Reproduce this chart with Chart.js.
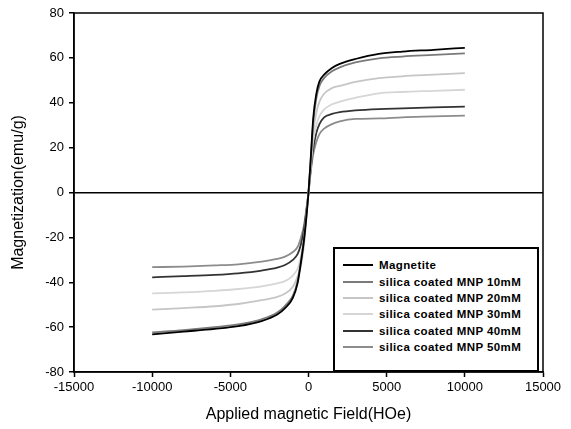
<!DOCTYPE html>
<html>
<head>
<meta charset="utf-8">
<script src="https://cdn.jsdelivr.net/npm/chart.js@4.4.1/dist/chart.umd.min.js"></script>
<style>
  body{ margin:0; background:#fff; }
  #wrap{ position:relative; width:571px; height:429px; }
  #legend{
    position:absolute; left:333px; top:247px; width:202px; height:113px;
    border:2px solid #000; background:#fff;
    font-family:"Liberation Sans", Arial, sans-serif; font-weight:bold; font-size:11.5px; letter-spacing:0.4px;
    box-sizing:content-box; padding-top:8px;
  }
  .lg-row{ display:flex; align-items:center; height:16.4px; }
  .lg-line{ width:30px; height:2px; margin-left:8px; margin-right:6px; }
</style>
</head>
<body>
<div id="wrap">
  <canvas id="c" width="571" height="429"></canvas>
  <div id="legend"></div>
</div>
<script>
// applied field (Oe)
const fieldH = [-10000,-8000,-6000,-4500,-3000,-2000,-1500,-1000,-700,-500,-300,-150,0,150,300,500,700,1000,1500,2000,3000,4500,6000,8000,10000];

// magnetization (emu/g)
const magnetite = [-63.2,-62,-60.8,-59.6,-57.3,-54.4,-51.5,-47,-40.5,-32,-22,-12,0,16,33,44,49.5,52.5,55.5,57.3,59.5,61.8,62.8,63.6,64.5];
const mnp10 = [-62.3,-61.3,-60,-58.8,-56.5,-53.5,-50.5,-46,-39.5,-31,-21,-11,0,15,31,42,47.5,51,54,55.8,58,59.8,60.6,61.3,62];
const mnp20 = [-52.2,-51.5,-50.7,-49.7,-48,-46.5,-45,-42,-37.5,-33,-24,-13,0,14,27,35.5,40.5,44,46.5,47.5,49.3,51,51.8,52.5,53.2];
const mnp30 = [-45,-44.5,-43.8,-43,-41.8,-40.5,-39.5,-37,-34,-29,-21,-11,0,12,23,30,34,37,39.3,40.5,42.2,44.2,44.8,45.3,45.8];
const mnp40 = [-37.8,-37.3,-36.7,-36,-34.8,-33.5,-32.3,-30,-27.5,-23.5,-17,-9,0,11,19.5,26.5,30.5,33.5,35,35.8,36.6,37.2,37.5,37.9,38.3];
const mnp50 = [-33.3,-33,-32.5,-32,-30.8,-29.6,-28.6,-26.5,-24.3,-20.5,-15,-8,0,9.5,17,22.5,26,28.5,30.5,31.7,32.8,33,33.5,33.9,34.3];

const seriesNames = ['Magnetite','silica coated MNP 10mM','silica coated MNP 20mM','silica coated MNP 30mM','silica coated MNP 40mM','silica coated MNP 50mM'];
const seriesData = [magnetite, mnp10, mnp20, mnp30, mnp40, mnp50];
const seriesColors = ['#000000','#7a7a7a','#c6c6c6','#d6d6d6','#333333','#8c8c8c'];

const xTicks = [-15000,-10000,-5000,0,5000,10000,15000];
const yTicks = [-80,-60,-40,-20,0,20,40,60,80];

const FONT = '"Liberation Sans", Arial, sans-serif';

const datasets = seriesData.map((vals,i)=>({
  label: seriesNames[i],
  data: vals.map((v,j)=>({x: fieldH[j], y: v})),
  borderColor: seriesColors[i],
  backgroundColor: seriesColors[i],
  borderWidth: 1.8,
  pointRadius: 0,
  cubicInterpolationMode: 'monotone',
  fill: false
}));

// box around plot area
const frame = {
  id:'frame',
  afterDraw(chart){
    const a = chart.chartArea, ctx = chart.ctx;
    ctx.save();
    ctx.strokeStyle = '#000'; ctx.lineWidth = 1.5;
    ctx.strokeRect(a.left, a.top, a.right-a.left, a.bottom-a.top);
    ctx.restore();
  }
};

new Chart(document.getElementById('c'), {
  type:'line',
  data:{ datasets },
  plugins:[frame],
  options:{
    responsive:false,
    animation:false,
    layout:{ padding:{ left:0, right:28, top:13, bottom:0 } },
    plugins:{ legend:{ display:false }, tooltip:{ enabled:false } },
    scales:{
      x:{
        type:'linear', min:-15000, max:15000,
        afterBuildTicks(s){ s.ticks = xTicks.map(v=>({value:v})); },
        afterFit(s){ s.height = 57; },
        ticks:{ color:'#000', font:{ family:FONT, size:13 }, padding:3, maxRotation:0, callback:v=>String(v) },
        grid:{ drawOnChartArea:false, tickLength:5, tickColor:'#000', tickWidth:1.5 },
        border:{ display:true, color:'#000', width:1.5 },
        title:{ display:true, text:'Applied magnetic Field(HOe)', color:'#000', font:{ family:FONT, size:16 }, padding:{ top:0, bottom:5 } }
      },
      y:{
        type:'linear', min:-80, max:80,
        afterBuildTicks(s){ s.ticks = yTicks.map(v=>({value:v})); },
        afterFit(s){ s.width = 74; },
        ticks:{ color:'#000', font:{ family:FONT, size:13 }, padding:5 },
        grid:{
          tickLength:5, tickColor:'#000', tickWidth:1.5,
          color:ctx=> (ctx.tick && ctx.tick.value===0) ? '#000' : 'rgba(0,0,0,0)',
          lineWidth:1.5
        },
        border:{ display:true, color:'#000', width:1.5 },
        title:{ display:true, text:'Magnetization(emu/g)', color:'#000', font:{ family:FONT, size:16 }, padding:{ top:9, bottom:0 } }
      }
    }
  }
});

// legend box
const lg = document.getElementById('legend');
seriesNames.forEach((name,i)=>{
  const row = document.createElement('div'); row.className='lg-row';
  const ln = document.createElement('div'); ln.className='lg-line'; ln.style.background = seriesColors[i];
  const tx = document.createElement('span'); tx.textContent = name;
  row.appendChild(ln); row.appendChild(tx);
  lg.appendChild(row);
});
</script>
</body>
</html>
